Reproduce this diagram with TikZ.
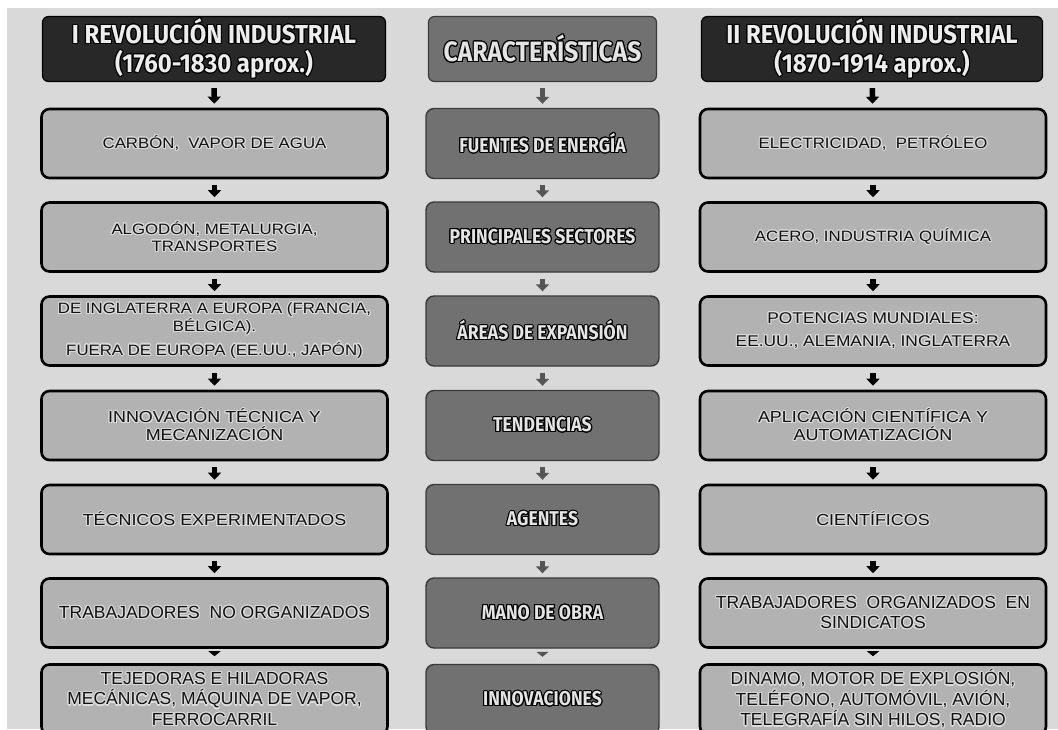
\documentclass[tikz,border=0pt]{standalone}
\usepackage{fontspec}
\usepackage[copies]{contour}
\usetikzlibrary{arrows.meta}
\setmainfont{Liberation Sans}
\newfontfamily\sidefont[FakeStretch=1.12]{Liberation Sans}
\newfontfamily\bigsidefont{Liberation Sans}
\newfontfamily\headfont[FakeStretch=0.92]{Fira Sans}
\newfontfamily\midfont[FakeStretch=0.88]{Fira Sans}
\definecolor{bgc}{HTML}{D9D9D9}
\definecolor{sidefill}{HTML}{B2B2B2}
\definecolor{midfill}{HTML}{717171}
\definecolor{midline}{HTML}{3A3A3A}
\definecolor{titlefill}{HTML}{282828}
\definecolor{headtxt}{HTML}{EDEDED}
\definecolor{midtxt}{HTML}{E4E4E4}
\definecolor{sidetxt}{HTML}{111111}
\definecolor{glowc}{HTML}{DCDCDC}
\definecolor{midarrow}{HTML}{555555}
\newcommand\glowtxt[1]{\contourlength{1.1pt}\contour{glowc}{#1}}
\newcommand\outtxt[1]{\contourlength{1.1pt}\contour{black}{#1}}
\begin{document}
\begin{tikzpicture}[x=1pt,y=-1pt,
  sidebox/.style={draw=black, line width=2.6pt, rounded corners=8pt, fill=sidefill,
    minimum width=346pt, minimum height=69pt, inner sep=0pt, align=center,
    text=sidetxt, font=\sidefont\fontsize{15}{17}\selectfont},
  bigside/.style={sidebox, font=\bigsidefont\fontsize{17.5}{20.5}\selectfont},
  midbox/.style={draw=midline, line width=1.4pt, rounded corners=8pt, fill=midfill,
    minimum width=233pt, minimum height=70pt, inner sep=0pt, align=center,
    text=midtxt, font=\midfont\bfseries\fontsize{20}{22}\selectfont},
  titlebox/.style={draw=black, line width=1.2pt, rounded corners=6pt, fill=titlefill,
    minimum height=65pt, inner sep=0pt, align=center, text=headtxt,
    font=\headfont\bfseries\fontsize{26}{29}\selectfont},
  sarrow/.style={line width=5.5pt, draw=black, -{Triangle[length=7pt,width=13pt]},
    shorten <=6pt, shorten >=4pt},
  marrow/.style={sarrow, draw=midarrow},
  flatarrow/.style={line width=1pt, draw=black, -{Triangle[length=5pt,width=12pt]},
    shorten <=4pt, shorten >=7pt},
  flatmarrow/.style={flatarrow, draw=midarrow}
]
\useasboundingbox (0,0) rectangle (1058,729);
\fill[white] (0,0) rectangle (1058,729);
\fill[bgc] (7,8) rectangle (1058,729);

% titles
\node[titlebox, minimum width=343pt] (lt) at (214,49) {\outtxt{I REVOLUCIÓN INDUSTRIAL}\\\outtxt{(1760-1830 aprox.)}};
\node[titlebox, minimum width=228pt, fill=midfill, draw=midline, text=midtxt,
  font=\midfont\bfseries\fontsize{28}{30}\selectfont] (mt) at (542.5,49) {\outtxt{CARACTERÍSTICAS}};
\node[titlebox, minimum width=341pt] (rt) at (872,49) {\outtxt{II REVOLUCIÓN INDUSTRIAL}\\\outtxt{(1870-1914 aprox.)}};

% left column
\node[sidebox] (l1) at (214.5,143.5) {\glowtxt{CARBÓN,\ \ VAPOR DE AGUA}};
\node[sidebox] (l2) at (214.5,237) {\glowtxt{ALGODÓN,\ METALURGIA,}\\\glowtxt{TRANSPORTES}};
\node[sidebox] (l3) at (214.5,331) {\glowtxt{DE INGLATERRA\ A EUROPA\ (FRANCIA,}\\\glowtxt{BÉLGICA).}\\[5pt]\glowtxt{FUERA DE EUROPA\ (EE.UU., JAPÓN)}};
\node[sidebox, font=\sidefont\fontsize{16}{18}\selectfont] (l4) at (214.5,425.5) {\glowtxt{INNOVACIÓN TÉCNICA Y}\\\glowtxt{MECANIZACIÓN}};
\node[sidebox, font=\sidefont\fontsize{16}{18}\selectfont] (l5) at (214.5,519.5) {\glowtxt{TÉCNICOS EXPERIMENTADOS}};
\node[bigside] (l6) at (214.5,613) {\glowtxt{TRABAJADORES\ \ NO\ ORGANIZADOS}};
\node[bigside, minimum height=70pt] (l7) at (214.5,699.5) {\glowtxt{TEJEDORAS\ E HILADORAS}\\\glowtxt{MECÁNICAS,\ MÁQUINA DE VAPOR,}\\\glowtxt{FERROCARRIL}};

% middle column
\node[midbox] (m1) at (542.5,143.5) {\outtxt{FUENTES DE ENERGÍA}};
\node[midbox] (m2) at (542.5,237) {\outtxt{PRINCIPALES SECTORES}};
\node[midbox] (m3) at (542.5,331) {\outtxt{ÁREAS DE EXPANSIÓN}};
\node[midbox] (m4) at (542.5,425.5) {\outtxt{TENDENCIAS}};
\node[midbox] (m5) at (542.5,519.5) {\outtxt{AGENTES}};
\node[midbox] (m6) at (542.5,613) {\outtxt{MANO DE OBRA}};
\node[midbox] (m7) at (542.5,699.5) {\outtxt{INNOVACIONES}};

% right column
\node[sidebox] (r1) at (873,143.5) {\glowtxt{ELECTRICIDAD,\ \ PETRÓLEO}};
\node[sidebox] (r2) at (873,237) {\glowtxt{ACERO,\ INDUSTRIA\ QUÍMICA}};
\node[sidebox, font=\sidefont\fontsize{15.5}{23}\selectfont] (r3) at (873,331) {\glowtxt{POTENCIAS MUNDIALES:}\\\glowtxt{EE.UU., ALEMANIA, INGLATERRA}};
\node[sidebox, font=\sidefont\fontsize{16}{18}\selectfont] (r4) at (873,425.5) {\glowtxt{APLICACIÓN CIENTÍFICA Y}\\\glowtxt{AUTOMATIZACIÓN}};
\node[sidebox, font=\sidefont\fontsize{16}{18}\selectfont] (r5) at (873,519.5) {\glowtxt{CIENTÍFICOS}};
\node[bigside] (r6) at (873,613) {\glowtxt{TRABAJADORES\ \ ORGANIZADOS\ \ EN}\\\glowtxt{SINDICATOS}};
\node[bigside, minimum height=70pt] (r7) at (873,699.5) {\glowtxt{DINAMO, MOTOR DE EXPLOSIÓN,}\\\glowtxt{TELÉFONO, AUTOMÓVIL, AVIÓN,}\\\glowtxt{TELEGRAFÍA\ SIN HILOS, RADIO}};

% arrows
\foreach \c/\s in {l/sarrow, m/marrow, r/sarrow}{
  \draw[\s] (\c t) -- (\c 1);
  \draw[\s] (\c 1) -- (\c 2);
  \draw[\s] (\c 2) -- (\c 3);
  \draw[\s] (\c 3) -- (\c 4);
  \draw[\s] (\c 4) -- (\c 5);
  \draw[\s] (\c 5) -- (\c 6);
}
\draw[flatarrow] (l6) -- (l7);
\draw[flatmarrow] (m6) -- (m7);
\draw[flatarrow] (r6) -- (r7);
\end{tikzpicture}
\end{document}
